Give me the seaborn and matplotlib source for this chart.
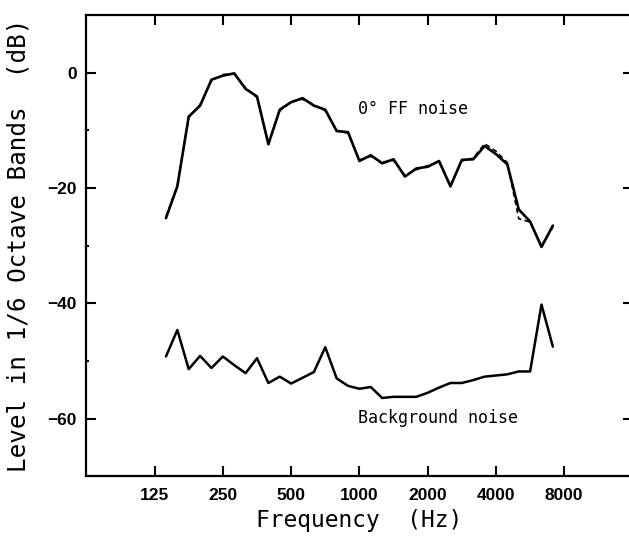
import numpy as np
import pandas as pd
import matplotlib
matplotlib.use("Agg")
import matplotlib.pyplot as plt
import seaborn as sns
from matplotlib.ticker import FixedLocator, NullLocator, FixedFormatter
from matplotlib.font_manager import FontProperties

# 1/6-octave band centre frequencies (Hz), 140 Hz .. 7127 Hz
band_steps = list(range(1, 36))
band_freqs = [125 * 2 ** (k / 6) for k in band_steps]

# 0 deg free-field noise, two measurements (solid and dashed)
ff_noise_a = [-25.2, -19.7, -7.6, -5.7, -1.2, -0.5, -0.1, -2.8, -4.1, -12.4,
              -6.4, -5.1, -4.4, -5.7, -6.4, -10.1, -10.3, -15.3, -14.3, -15.7,
              -15.0, -18.0, -16.6, -16.3, -15.3, -19.7, -15.1, -15.0, -12.7, -14.1,
              -15.9, -23.7, -25.8, -30.2, -26.5]
ff_noise_b = [-25.0, -19.5, -7.8, -5.5, -1.4, -0.3, -0.2, -2.6, -4.3, -12.2,
              -6.6, -5.0, -4.6, -5.5, -6.6, -10.0, -10.5, -15.1, -14.5, -15.5,
              -15.2, -17.8, -16.8, -16.1, -15.5, -19.5, -15.3, -14.8, -12.3, -13.6,
              -15.6, -25.3, -25.9, -30.0, -26.8]

# background noise
bg_noise = [-49.2, -44.6, -51.4, -49.1, -51.2, -49.2, -50.7, -52.1, -49.5, -53.8,
            -52.7, -53.9, -52.9, -51.9, -47.6, -53.0, -54.3, -54.8, -54.5, -56.4,
            -56.2, -56.2, -56.2, -55.5, -54.6, -53.8, -53.8, -53.3, -52.7, -52.5,
            -52.3, -51.8, -51.8, -40.2, -47.5]

octave_ticks = [125, 250, 500, 1000, 2000, 4000, 8000]
octave_labels = ["125", "250", "500", "1000", "2000", "4000", "8000"]
level_ticks = [0, -20, -40, -60]
level_minor = [-10, -30, -50]

sns.set_style("ticks")
plt.rcParams["font.family"] = ["DejaVu Sans Mono", "DejaVu Sans"]
plt.rcParams["text.color"] = "black"
plt.rcParams["axes.labelcolor"] = "black"
plt.rcParams["xtick.color"] = "black"
plt.rcParams["ytick.color"] = "black"

df = pd.DataFrame({
    "freq": band_freqs * 3,
    "level": ff_noise_a + ff_noise_b + bg_noise,
    "series": ["ff_a"] * 35 + ["ff_b"] * 35 + ["bg"] * 35,
})

fig = plt.figure(figsize=(6.29, 5.36), dpi=100)
ax = fig.add_axes([0.1372, 0.1112, 0.8684, 0.8606])

sns.lineplot(data=df[df.series == "ff_a"], x="freq", y="level", ax=ax,
             color="black", lw=1.9, estimator=None)
sns.lineplot(data=df[df.series == "ff_b"], x="freq", y="level", ax=ax,
             color="black", lw=1.2, ls=(0, (3, 2)), estimator=None)
sns.lineplot(data=df[df.series == "bg"], x="freq", y="level", ax=ax,
             color="black", lw=1.8, estimator=None)

ax.set_xscale("log")
ax.set_xlim(62.5, 16000)
ax.set_ylim(-70, 10)

ax.xaxis.set_major_locator(FixedLocator(octave_ticks))
ax.xaxis.set_major_formatter(FixedFormatter(octave_labels))
ax.xaxis.set_minor_locator(NullLocator())
ax.yaxis.set_major_locator(FixedLocator(level_ticks))
ax.yaxis.set_minor_locator(FixedLocator(level_minor))

ax.tick_params(which="both", direction="in", top=True, right=True,
               color="black", width=1.5)
ax.tick_params(which="major", length=7)
ax.tick_params(which="minor", length=2.5)
tick_font = FontProperties(family="Liberation Sans", weight="bold", size=12.5)
for lab in ax.get_xticklabels() + ax.get_yticklabels():
    lab.set_fontproperties(tick_font)
    lab.set_color("black")
ax.tick_params(axis="x", pad=8)
ax.tick_params(axis="y", pad=7)

for sp in ax.spines.values():
    sp.set_visible(True)
    sp.set_linewidth(1.6)
    sp.set_color("black")

ax.set_xlabel("Frequency  (Hz)", fontsize=16.5, labelpad=5)
ax.set_ylabel("Level in 1/6 Octave Bands  (dB)", fontsize=17.5, labelpad=12)

ax.text(985, -6.3, "0\u00b0 FF noise", fontsize=12, va="center", ha="left")
ax.text(985, -59.8, "Background noise", fontsize=12, va="center", ha="left")

fig.savefig("out.png", dpi=100, facecolor="white")
